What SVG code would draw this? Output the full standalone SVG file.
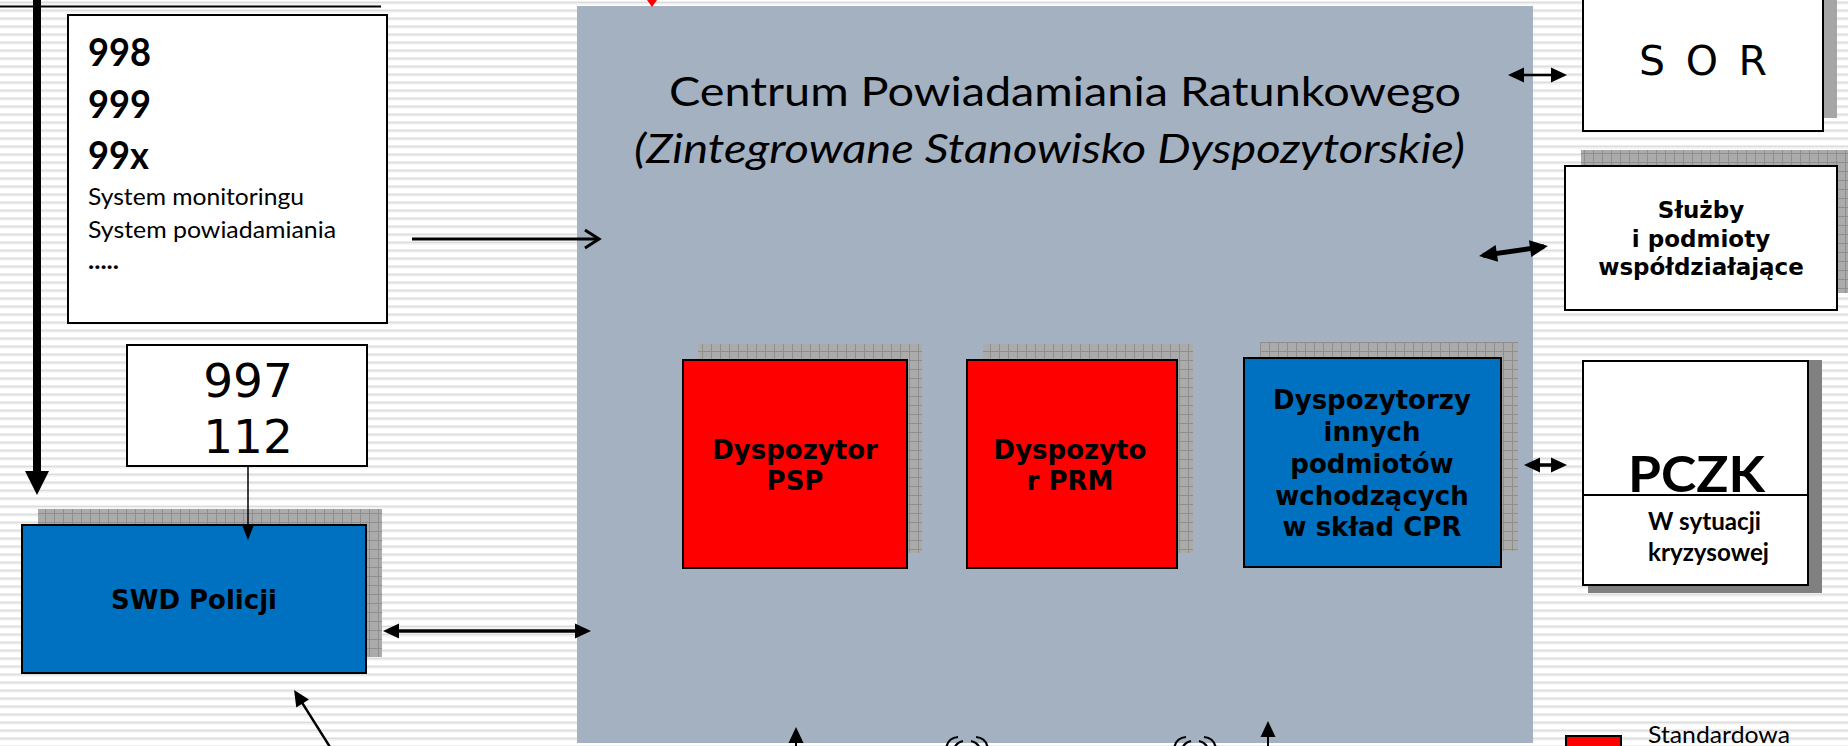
<svg xmlns="http://www.w3.org/2000/svg" width="1848" height="746" viewBox="0 0 1848 746">
<style>
.cal{font-family:Lato,"Liberation Sans",sans-serif;fill:#000}
.ver{font-family:"DejaVu Sans",Verdana,sans-serif;fill:#000}
.vb{font-family:"DejaVu Sans",Verdana,sans-serif;font-weight:bold;fill:#000;text-anchor:middle}
.box{stroke:#000;stroke-width:2}
.con{stroke:#000;fill:none}
</style>
<defs>
<pattern id="stripes" width="8" height="8" patternUnits="userSpaceOnUse">
<rect width="8" height="8" fill="#fff"/>
<rect y="1.5" width="8" height="2" fill="#DDDDDD"/>
<rect y="3.5" width="8" height="1" fill="#EEEEEE"/>
</pattern>
<pattern id="grid" width="9" height="9" patternUnits="userSpaceOnUse">
<rect width="9" height="9" fill="#ABABAB"/>
<path d="M0 0.5H9M0.5 0V9" stroke="#8E8E8E" stroke-width="1"/>
</pattern>
<marker id="ah" markerUnits="userSpaceOnUse" markerWidth="16" markerHeight="15" refX="12" refY="7.5" orient="auto-start-reverse" overflow="visible">
<path d="M0,0 L16,7.5 L0,15 z" fill="#000"/>
</marker>
<marker id="ahL" markerUnits="userSpaceOnUse" markerWidth="18" markerHeight="17" refX="14" refY="8.5" orient="auto-start-reverse" overflow="visible">
<path d="M0,0 L18,8.5 L0,17 z" fill="#000"/>
</marker>
<marker id="ahS" markerUnits="userSpaceOnUse" markerWidth="14" markerHeight="11" refX="11" refY="5.5" orient="auto" overflow="visible">
<path d="M0,0 L14,5.5 L0,11 z" fill="#000"/>
</marker>
<marker id="chev" markerUnits="userSpaceOnUse" markerWidth="16" markerHeight="20" refX="14" refY="9" orient="auto" overflow="visible">
<path d="M0,0 L14,9 L0,18" fill="none" stroke="#000" stroke-width="3"/>
</marker>
</defs>

<rect width="1848" height="746" fill="url(#stripes)"/>

<g id="n-cpr">
<rect x="577" y="6" width="956" height="737" fill="#A3B1C1"/>
<text class="cal" x="669" y="106" font-size="41" textLength="792" lengthAdjust="spacingAndGlyphs">Centrum Powiadamiania Ratunkowego</text>
<text class="cal" x="634" y="163" font-size="41" font-style="italic" textLength="831" lengthAdjust="spacingAndGlyphs">(Zintegrowane Stanowisko Dyspozytorskie)</text>
</g>

<g id="n-998">
<rect class="box" x="68" y="15" width="319" height="308" fill="#fff"/>
<text class="cal" x="88" y="66" font-size="38" font-weight="bold" textLength="63" lengthAdjust="spacingAndGlyphs">998</text>
<text class="cal" x="88" y="118" font-size="38" font-weight="bold" textLength="63" lengthAdjust="spacingAndGlyphs">999</text>
<text class="cal" x="88" y="169" font-size="38" font-weight="bold" textLength="61" lengthAdjust="spacingAndGlyphs">99x</text>
<text class="cal" x="88" y="205" font-size="24" textLength="216" lengthAdjust="spacingAndGlyphs">System monitoringu</text>
<text class="cal" x="88" y="238" font-size="24" textLength="248" lengthAdjust="spacingAndGlyphs">System powiadamiania</text>
<text class="cal" x="88" y="269" font-size="24" font-weight="bold" textLength="31" lengthAdjust="spacingAndGlyphs">.....</text>
</g>

<g id="n-997">
<rect class="box" x="127" y="345" width="240" height="121" fill="#fff"/>
<text class="ver" x="248" y="397" font-size="47" text-anchor="middle">997</text>
<text class="ver" x="248" y="453" font-size="47" text-anchor="middle">112</text>
</g>

<g id="n-swd">
<rect x="38" y="509" width="344" height="148" fill="url(#grid)"/>
<rect class="box" x="22" y="525" width="344" height="148" fill="#0070C0"/>
<text class="vb" x="194" y="609" font-size="26">SWD Policji</text>
</g>

<g id="n-psp">
<rect x="698" y="344" width="224" height="209" fill="url(#grid)"/>
<rect class="box" x="683" y="360" width="224" height="208" fill="#FF0000"/>
<text class="vb" x="795" y="459" font-size="26">Dyspozytor</text>
<text class="vb" x="795" y="490" font-size="26">PSP</text>
</g>

<g id="n-prm">
<rect x="983" y="344" width="210" height="209" fill="url(#grid)"/>
<rect class="box" x="967" y="360" width="210" height="208" fill="#FF0000"/>
<text class="vb" x="1070" y="459" font-size="26">Dyspozyto</text>
<text class="vb" x="1070" y="490" font-size="26">r PRM</text>
</g>

<g id="n-other">
<rect x="1260" y="342" width="258" height="209" fill="url(#grid)"/>
<rect class="box" x="1244" y="358" width="257" height="209" fill="#0070C0"/>
<text class="vb" x="1372" y="409" font-size="26">Dyspozytorzy</text>
<text class="vb" x="1372" y="441" font-size="26">innych</text>
<text class="vb" x="1372" y="473" font-size="26">podmiotów</text>
<text class="vb" x="1372" y="505" font-size="26">wchodzących</text>
<text class="vb" x="1372" y="536" font-size="26">w skład CPR</text>
</g>

<g id="n-sor">
<rect x="1597" y="-43" width="240" height="161" fill="#A6A6A6"/>
<rect class="box" x="1583" y="-30" width="240" height="161" fill="#fff"/>
<text class="ver" x="1703" y="75" font-size="41" text-anchor="middle" textLength="128" lengthAdjust="spacing">S O R</text>
</g>

<g id="n-sluzby">
<rect x="1581" y="150" width="272" height="143" fill="url(#grid)"/>
<rect class="box" x="1565" y="166" width="272" height="144" fill="#fff"/>
<text class="vb" x="1701" y="218" font-size="23">Służby</text>
<text class="vb" x="1701" y="247" font-size="23">i podmioty</text>
<text class="vb" x="1701" y="275" font-size="23">współdziałające</text>
</g>

<g id="n-pczk">
<rect x="1588" y="360" width="234" height="233" fill="#808080"/>
<rect class="box" x="1583" y="361" width="225" height="224" fill="#fff"/>
<line x1="1583" y1="495" x2="1808" y2="495" stroke="#000" stroke-width="2"/>
<text class="cal" x="1628" y="492" font-size="50" font-weight="bold" textLength="137" lengthAdjust="spacingAndGlyphs">PCZK</text>
<text class="cal" x="1648" y="530" font-size="24" font-weight="bold" textLength="113" lengthAdjust="spacingAndGlyphs">W sytuacji</text>
<text class="cal" x="1648" y="561" font-size="24" font-weight="bold" textLength="121" lengthAdjust="spacingAndGlyphs">kryzysowej</text>
</g>

<g id="legend">
<rect class="box" x="1566" y="736" width="55" height="20" fill="#FF0000"/>
<text class="cal" x="1648" y="743" font-size="23" textLength="142" lengthAdjust="spacingAndGlyphs">Standardowa</text>
</g>

<g id="connectors">
<line class="con" x1="0" y1="6.5" x2="381" y2="6.5" stroke-width="2"/>
<line class="con" x1="37" y1="-2" x2="37" y2="473" stroke-width="8"/>
<polygon points="25,471 49,471 37,495" fill="#000"/>
<polygon points="647,0 657,0 652,7" fill="#FF0000"/>
<line class="con" x1="412" y1="239" x2="599" y2="239" stroke-width="3" marker-end="url(#chev)"/>
<line class="con" x1="248" y1="466" x2="248" y2="537" stroke-width="1.5" marker-end="url(#ahS)"/>
<line class="con" x1="387" y1="631" x2="587" y2="631" stroke-width="3.5" marker-start="url(#ah)" marker-end="url(#ah)"/>
<line class="con" x1="330" y1="747" x2="296.2" y2="693.4" stroke-width="2.5" marker-end="url(#ah)"/>
<line class="con" x1="1512" y1="75" x2="1563" y2="75" stroke-width="2.5" marker-start="url(#ah)" marker-end="url(#ah)"/>
<line class="con" x1="1483" y1="255.4" x2="1544" y2="246.6" stroke-width="5" marker-start="url(#ahL)" marker-end="url(#ahL)"/>
<line class="con" x1="1528" y1="465" x2="1563" y2="465" stroke-width="3.5" marker-start="url(#ah)" marker-end="url(#ah)"/>
<line class="con" x1="796" y1="747" x2="796" y2="731" stroke-width="2" marker-end="url(#ah)"/>
<line class="con" x1="1268" y1="747" x2="1268" y2="725" stroke-width="2" marker-end="url(#ah)"/>
</g>

<g id="signal-icons" fill="none" stroke="#000" stroke-width="2.2">
<path d="M946,752 Q946,738 958,737 M954,752 Q954,743 963,741 M988,752 Q988,738 976,737 M980,752 Q980,743 971,741"/>
<path d="M1174,752 Q1174,738 1186,737 M1182,752 Q1182,743 1191,741 M1216,752 Q1216,738 1204,737 M1208,752 Q1208,743 1199,741"/>
</g>
</svg>
